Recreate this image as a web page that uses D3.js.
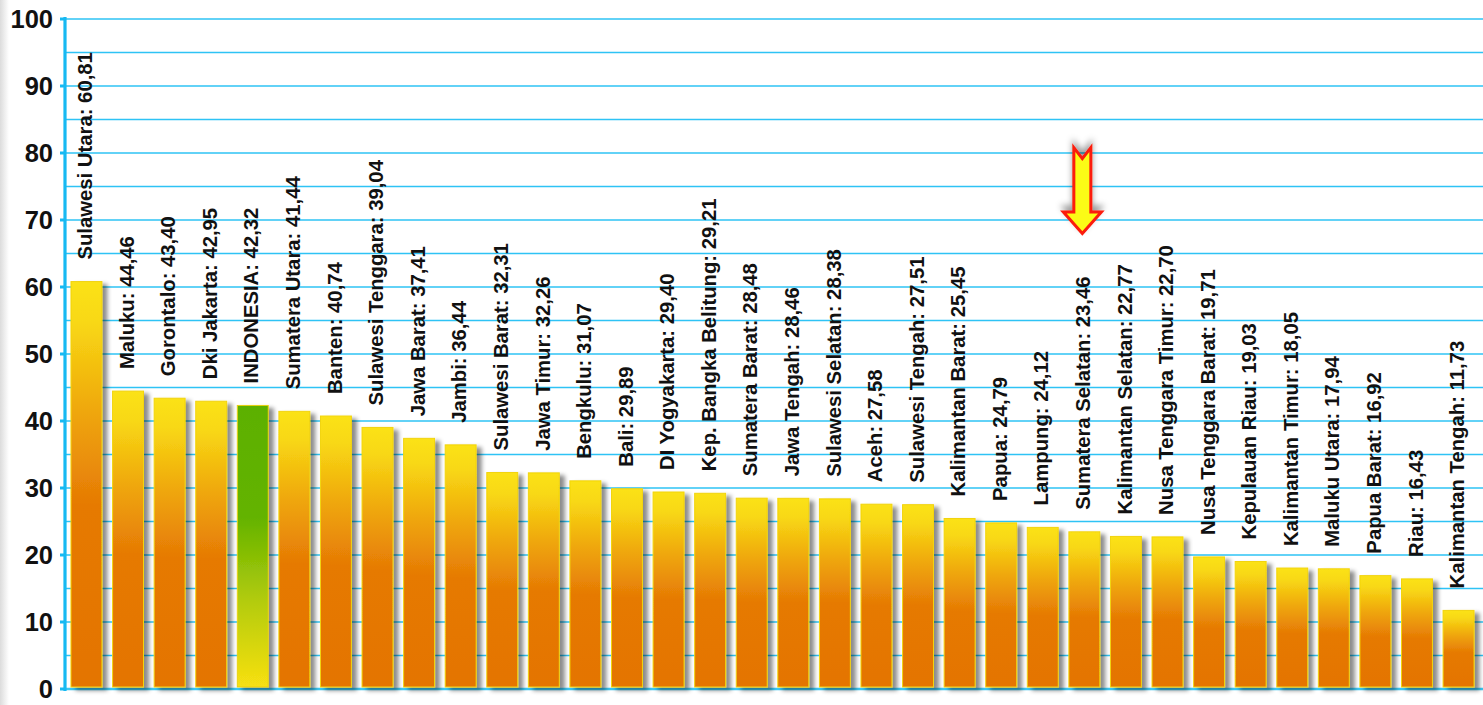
<!DOCTYPE html>
<html>
<head>
<meta charset="utf-8">
<script src="https://cdn.jsdelivr.net/npm/d3@7/dist/d3.min.js"></script>
<style>
  html, body { margin: 0; padding: 0; background: #fff; }
  svg { display: block; }
</style>
</head>
<body>
<script>
// ---- data ----
const provinces = [
  "Sulawesi Utara", "Maluku", "Gorontalo", "Dki Jakarta", "INDONESIA",
  "Sumatera Utara", "Banten", "Sulawesi Tenggara", "Jawa Barat", "Jambi",
  "Sulawesi Barat", "Jawa Timur", "Bengkulu", "Bali", "DI Yogyakarta",
  "Kep. Bangka Belitung", "Sumatera Barat", "Jawa Tengah", "Sulawesi Selatan", "Aceh",
  "Sulawesi Tengah", "Kalimantan Barat", "Papua", "Lampung", "Sumatera Selatan",
  "Kalimantan Selatan", "Nusa Tenggara Timur", "Nusa Tenggara Barat", "Kepulauan Riau", "Kalimantan Timur",
  "Maluku Utara", "Papua Barat", "Riau", "Kalimantan Tengah"
];
const values = [
  60.81, 44.46, 43.40, 42.95, 42.32,
  41.44, 40.74, 39.04, 37.41, 36.44,
  32.31, 32.26, 31.07, 29.89, 29.40,
  29.21, 28.48, 28.46, 28.38, 27.58,
  27.51, 25.45, 24.79, 24.12, 23.46,
  22.77, 22.70, 19.71, 19.03, 18.05,
  17.94, 16.92, 16.43, 11.73
];
const highlightCategory = "INDONESIA";
const arrowCategory = "Sumatera Selatan";
const yTickValues = [0, 10, 20, 30, 40, 50, 60, 70, 80, 90, 100];
const yGridValues = [0, 5, 10, 15, 20, 25, 30, 35, 40, 45, 50, 55, 60, 65, 70, 75, 80, 85, 90, 95, 100];
// arrow annotation, in value units
const arrowTopValue = 80.8, arrowHeadValue = 71.2, arrowTipValue = 68.0;

// ---- layout ----
const W = 1483, H = 705;
const svg = d3.select("body").append("svg").attr("width", W).attr("height", H);
const defs = svg.append("defs");

const x = d3.scaleBand().domain(provinces).range([65, 1480]).paddingInner(0.256).paddingOuter(0.144);
const y = d3.scaleLinear().domain([0, 100]).range([689, 19]);

// gradients
const gOrange = defs.append("linearGradient").attr("id", "gOrange").attr("x1", 0).attr("y1", 0).attr("x2", 0).attr("y2", 1);
[[0, "#fbe216"], [0.1, "#f8d814"], [0.32, "#efa70c"], [0.55, "#e67a05"], [1, "#e47404"]]
  .forEach(([o, c]) => gOrange.append("stop").attr("offset", o).attr("stop-color", c));
const gGreen = defs.append("linearGradient").attr("id", "gGreen").attr("x1", 0).attr("y1", 0).attr("x2", 0).attr("y2", 1);
[[0, "#5cb000"], [0.4, "#64b300"], [0.7, "#b4cc0c"], [1, "#f8e012"]]
  .forEach(([o, c]) => gGreen.append("stop").attr("offset", o).attr("stop-color", c));
const gLeft = defs.append("linearGradient").attr("id", "gLeft").attr("x1", 0).attr("y1", 0).attr("x2", 1).attr("y2", 0);
[[0, "#dcdcdc"], [1, "#ffffff"]].forEach(([o, c]) => gLeft.append("stop").attr("offset", o).attr("stop-color", c));

const shadow = defs.append("filter").attr("id", "shadow").attr("x", "-20%").attr("y", "-20%").attr("width", "160%").attr("height", "140%");
shadow.append("feDropShadow").attr("dx", 5).attr("dy", 3).attr("stdDeviation", 2.2)
  .attr("flood-color", "#000").attr("flood-opacity", 0.45);
const ashadow = defs.append("filter").attr("id", "ashadow").attr("x", "-50%").attr("y", "-50%").attr("width", "200%").attr("height", "200%");
ashadow.append("feDropShadow").attr("dx", 0).attr("dy", -5).attr("stdDeviation", 3)
  .attr("flood-color", "#000").attr("flood-opacity", 0.4);

// left gray strip
svg.append("rect").attr("x", 0).attr("y", 0).attr("width", 9).attr("height", H).attr("fill", "url(#gLeft)");

// gridlines
svg.append("g").selectAll("line").data(yGridValues).join("line")
  .attr("x1", 65).attr("x2", W).attr("y1", d => y(d)).attr("y2", d => y(d))
  .attr("stroke", d => d === 0 ? "#3cc8f4" : "#2ec3f5").attr("stroke-width", d => d === 0 ? 2.5 : 1.6);

// bars
const data = provinces.map((p, i) => ({ p, v: values[i] }));
svg.append("g").selectAll("rect").data(data).join("rect")
  .attr("x", d => x(d.p)).attr("width", x.bandwidth())
  .attr("y", d => y(d.v)).attr("height", d => y(0) - 2 - y(d.v))
  .attr("fill", d => d.p === highlightCategory ? "url(#gGreen)" : "url(#gOrange)")
  .attr("stroke", d => d.p === highlightCategory ? "#e9d20e" : "#f2d40a").attr("stroke-width", 1)
  .attr("filter", "url(#shadow)");

// y axis
const axis = svg.append("g");
axis.append("line").attr("x1", 65).attr("x2", 65).attr("y1", y(100) - 2).attr("y2", y(0) + 2)
  .attr("stroke", "#17b9f2").attr("stroke-width", 3.2);
axis.selectAll("line.tick").data(yTickValues).join("line").attr("class", "tick")
  .attr("x1", 60).attr("x2", 66).attr("y1", d => y(d)).attr("y2", d => y(d))
  .attr("stroke", "#17b9f2").attr("stroke-width", 3);
axis.selectAll("text").data(yTickValues).join("text")
  .attr("x", 53).attr("y", d => y(d)).attr("dy", "0.36em")
  .attr("text-anchor", "end")
  .attr("font-family", "'Liberation Sans', Arial, sans-serif").attr("font-weight", "bold")
  .attr("font-size", 25.5).attr("fill", "#111")
  .text(d => d);

// value labels
const fmt = v => d3.format(".2f")(v).replace(".", ",");
svg.append("g").selectAll("text").data(data).join("text")
  .attr("transform", d => `translate(${x(d.p) + x.bandwidth() / 2},${y(d.v) - 22}) rotate(-90)`)
  .attr("dy", "0.28em")
  .attr("font-family", "'Liberation Sans', Arial, sans-serif").attr("font-weight", "bold")
  .attr("font-size", 20.3).attr("fill", "#111")
  .text(d => `${d.p}: ${fmt(d.v)}`);

// arrow annotation
const ax = x(arrowCategory) + x.bandwidth() / 2 - 2;
const yt = y(arrowTopValue), yh = y(arrowHeadValue), yp = y(arrowTipValue);
const sw = 8.5, hw = 19, notch = 11;
const pts = [
  [ax - sw, yt], [ax, yt + notch], [ax + sw, yt], [ax + sw, yh],
  [ax + hw, yh], [ax, yp], [ax - hw, yh], [ax - sw, yh]
];
svg.append("path").attr("d", d3.line()(pts) + "Z")
  .attr("fill", "#fbfb12").attr("stroke", "#fb1a0a").attr("stroke-width", 3)
  .attr("stroke-linejoin", "miter").attr("filter", "url(#ashadow)");
</script>
</body>
</html>
